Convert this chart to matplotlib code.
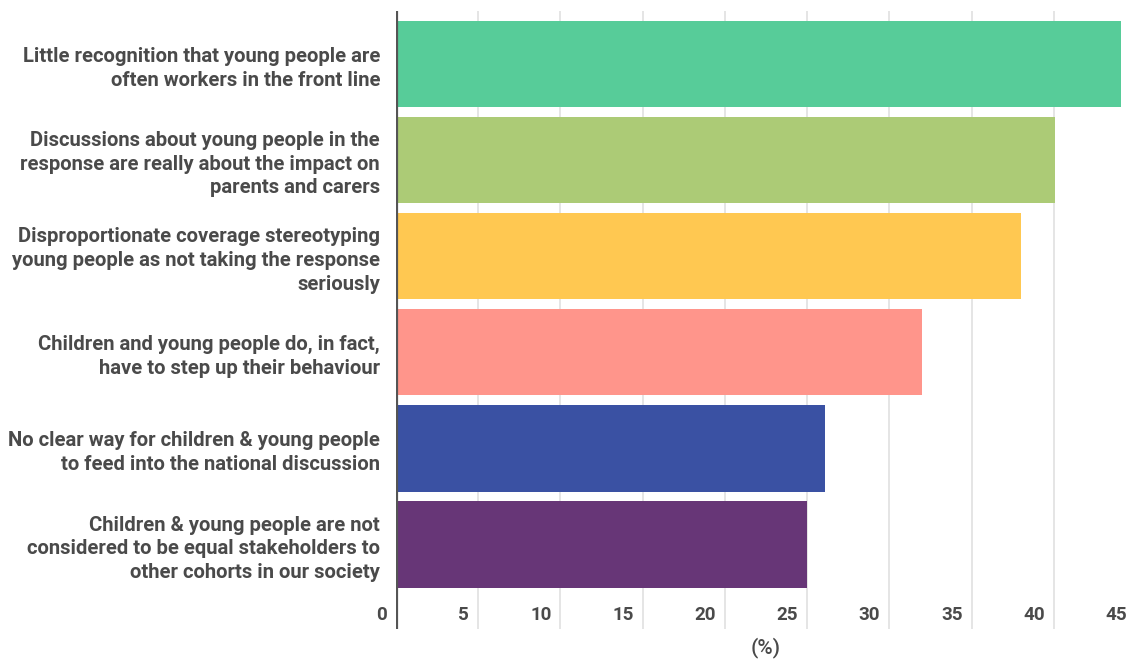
import matplotlib.pyplot as plt
import matplotlib.transforms as mtransforms

# Survey responses (% of respondents)
categories = [
    "Little recognition that young people are\noften workers in the front line",
    "Discussions about young people in the\nresponse are really about the impact on\nparents and carers",
    "Disproportionate coverage stereotyping\nyoung people as not taking the response\nseriously",
    "Children and young people do, in fact,\nhave to step up their behaviour",
    "No clear way for children & young people\nto feed into the national discussion",
    "Children & young people are not\nconsidered to be equal stakeholders to\nother cohorts in our society",
]
values = [44.1, 40.1, 38.0, 32.0, 26.1, 25.0]
colors = ["#57cc99", "#accb76", "#ffc851", "#ff958b", "#3a51a3", "#673677"]
xticks = [0, 5, 10, 15, 20, 25, 30, 35, 40, 45]

plt.rcParams['font.family'] = ['Roboto', 'DejaVu Sans']
text_col = "#4a4a4a"

fig = plt.figure(figsize=(11.36, 6.6), dpi=100)
ax = fig.add_axes([396 / 1136, 1 - 629 / 660, 740 / 1136, 618 / 660])

pos = list(range(len(values)))
ax.barh(pos, values, height=0.9, color=colors, zorder=2)

ax.set_xlim(0, 45)
ax.set_ylim(5.88, -0.55)

# grid (the 45 line falls on the figure edge)
for x in xticks[1:-1]:
    ax.axvline(x, color="#dedede", lw=1.1, zorder=1)
ax.axvline(0, color="#555555", lw=2.3, zorder=3)

for s in ax.spines.values():
    s.set_visible(False)

ax.set_xticks([])
ax.set_yticks(pos)
ax.set_yticklabels(categories, fontsize=14.6, fontweight="bold", color=text_col,
                   linespacing=1.31)
ax.tick_params(axis="y", length=0, pad=11.5)

# tick numbers sit inside the plot, just left of each gridline
trans = mtransforms.blended_transform_factory(ax.transData, ax.transAxes)
shift = mtransforms.ScaledTranslation(-9 / 100, 0, fig.dpi_scale_trans)
for x in xticks:
    ax.text(x, 0.0227, str(x), transform=trans + shift, ha="right", va="center",
            fontsize=13.5, fontweight="bold", color=text_col)

ax.text(0.5, -19 / 618, "(%)", transform=ax.transAxes, ha="center", va="center",
        fontsize=15, fontweight="medium", color=text_col)

plt.savefig("out.png", dpi=100)
